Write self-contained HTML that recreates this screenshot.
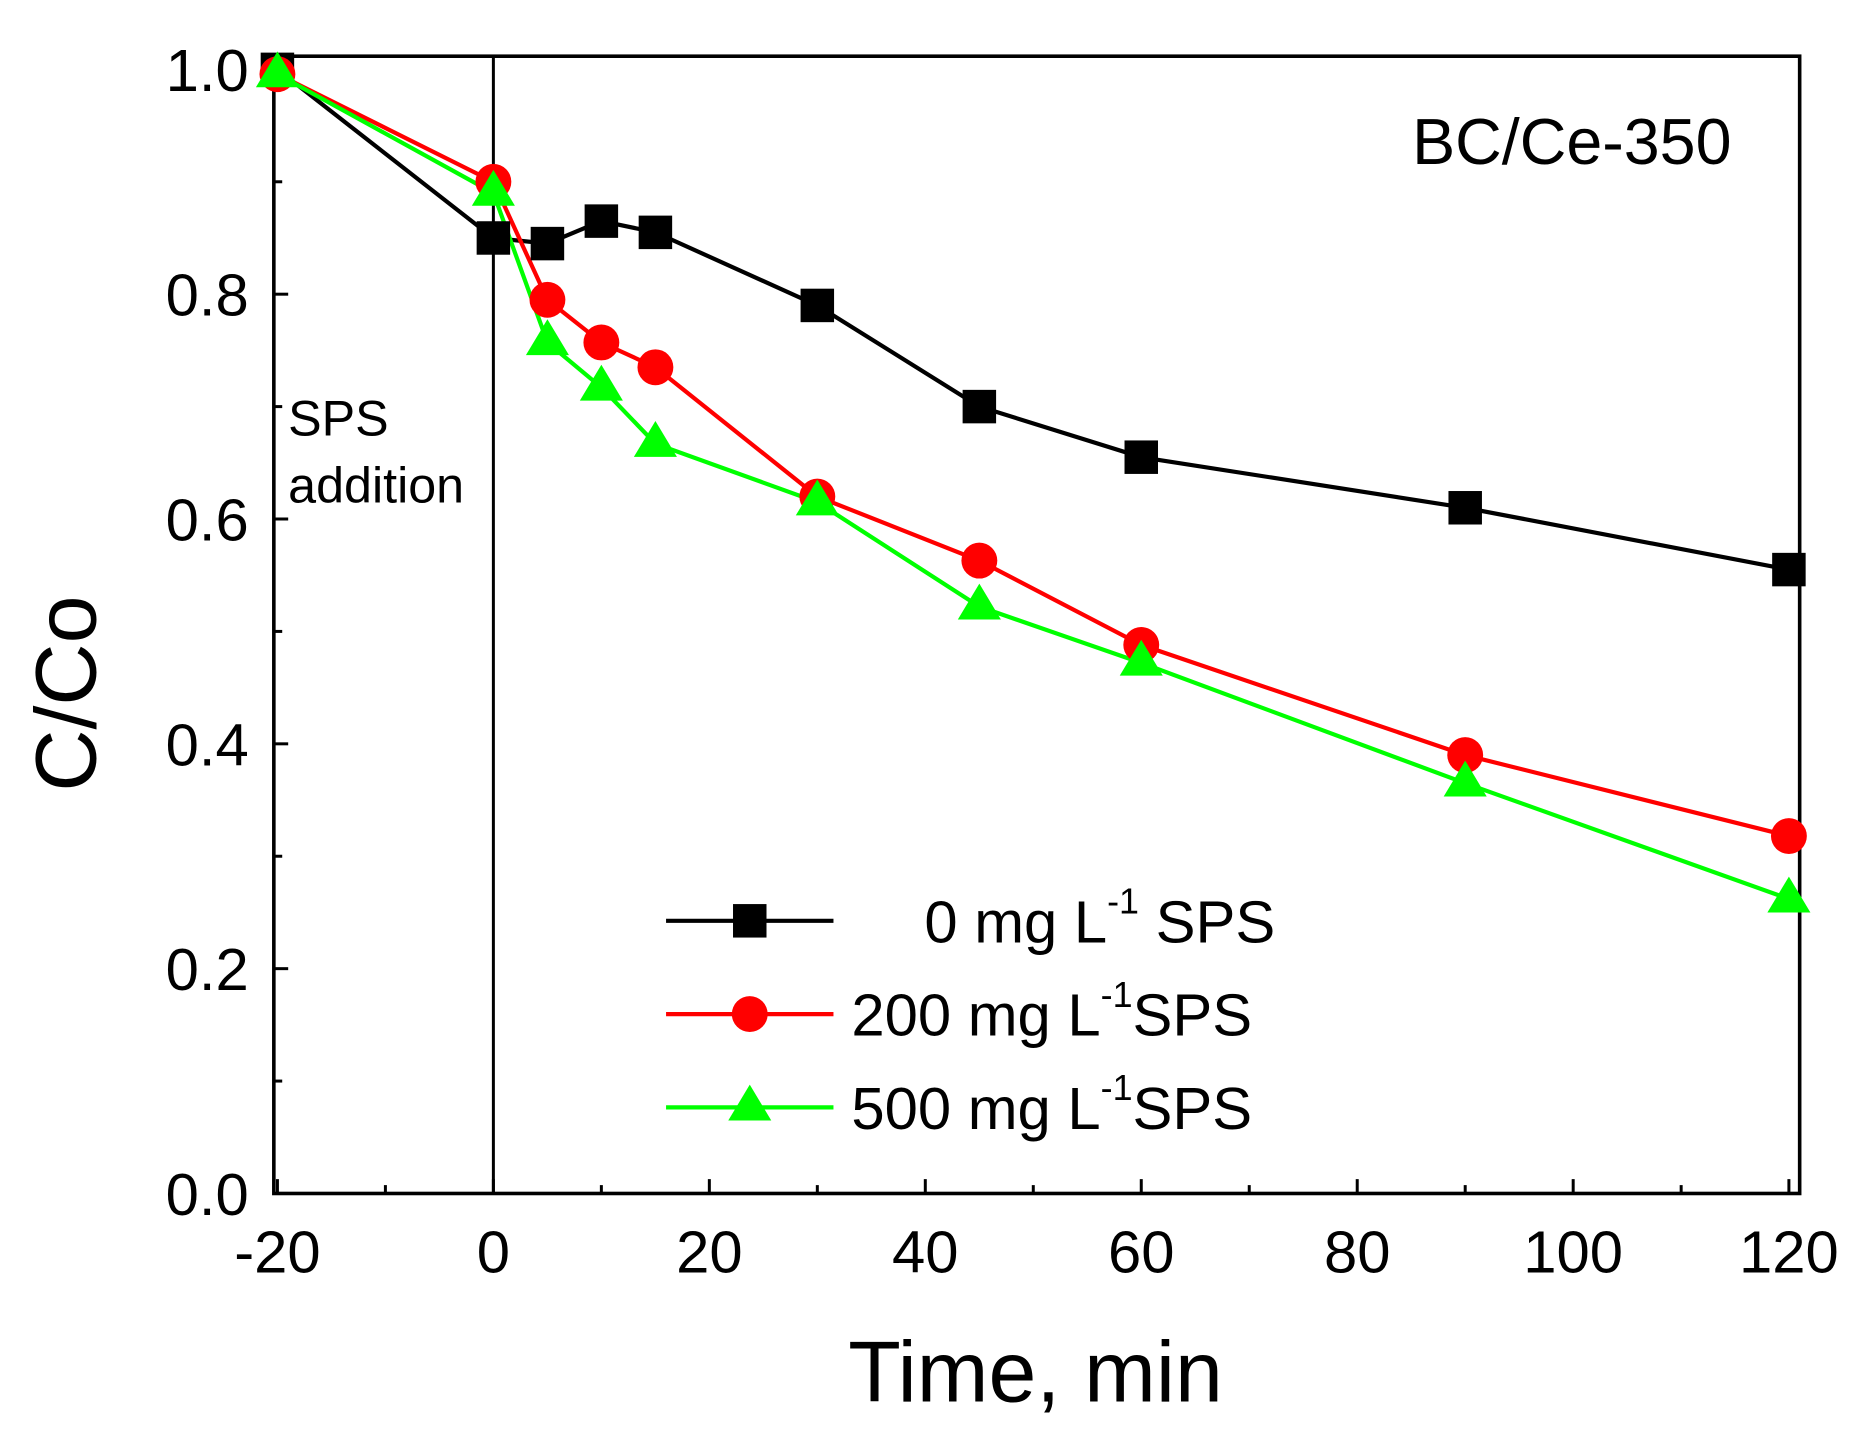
<!DOCTYPE html>
<html><head><style>html,body{margin:0;padding:0;background:#fff}svg{display:block}</style></head>
<body>
<svg width="1875" height="1447" viewBox="0 0 1568 1210" preserveAspectRatio="none" xmlns="http://www.w3.org/2000/svg" font-family="Liberation Sans, sans-serif">
<rect x="0" y="0" width="1568" height="1210" fill="#fff"/>
<g stroke="#000" stroke-width="2.5">
<line x1="412.6" y1="47" x2="412.6" y2="998"/>
<line x1="229" y1="998" x2="241" y2="998"/><line x1="229" y1="810" x2="241" y2="810"/><line x1="229" y1="622" x2="241" y2="622"/><line x1="229" y1="434" x2="241" y2="434"/><line x1="229" y1="246" x2="241" y2="246"/><line x1="229" y1="58" x2="241" y2="58"/>
<line x1="229" y1="904" x2="236" y2="904"/><line x1="229" y1="716" x2="236" y2="716"/><line x1="229" y1="528" x2="236" y2="528"/><line x1="229" y1="340" x2="236" y2="340"/><line x1="229" y1="152" x2="236" y2="152"/>
<line x1="232" y1="998" x2="232" y2="986"/><line x1="412.6" y1="998" x2="412.6" y2="986"/><line x1="593.2" y1="998" x2="593.2" y2="986"/><line x1="773.8" y1="998" x2="773.8" y2="986"/><line x1="954.4" y1="998" x2="954.4" y2="986"/><line x1="1135" y1="998" x2="1135" y2="986"/><line x1="1315.6" y1="998" x2="1315.6" y2="986"/><line x1="1496" y1="998" x2="1496" y2="986"/>
<line x1="322.3" y1="998" x2="322.3" y2="991"/><line x1="502.9" y1="998" x2="502.9" y2="991"/><line x1="683.5" y1="998" x2="683.5" y2="991"/><line x1="864.1" y1="998" x2="864.1" y2="991"/><line x1="1044.7" y1="998" x2="1044.7" y2="991"/><line x1="1225.3" y1="998" x2="1225.3" y2="991"/><line x1="1405.9" y1="998" x2="1405.9" y2="991"/>
</g>
<rect x="229" y="47" width="1276" height="951" fill="none" stroke="#000" stroke-width="3"/>
<polyline fill="none" stroke="#000" stroke-width="3.5" points="232,58 412.6,199 457.8,203.7 502.9,184.9 548.1,194.3 683.5,255.4 819,340 954.4,382.3 1225.3,424.6 1496,476.3"/>
<polyline fill="none" stroke="#ff0000" stroke-width="3.5" points="232,62 412.6,152 457.8,250.7 502.9,286.4 548.1,307.1 683.5,415.2 819,468.8 954.4,539.3 1225.3,631.4 1496,699.1"/>
<polyline fill="none" stroke="#00ff00" stroke-width="3.5" points="232,62 412.6,161.4 457.8,286.4 502.9,324 548.1,371 683.5,419.9 819,507.3 954.4,554.3 1225.3,654.9 1496,751.7"/>
<g fill="#000">
<rect x="218" y="44" width="28" height="28"/><rect x="398.6" y="185" width="28" height="28"/><rect x="443.8" y="189.7" width="28" height="28"/><rect x="488.9" y="170.9" width="28" height="28"/><rect x="534.1" y="180.3" width="28" height="28"/><rect x="669.5" y="241.4" width="28" height="28"/><rect x="805" y="326" width="28" height="28"/><rect x="940.4" y="368.3" width="28" height="28"/><rect x="1211.3" y="410.6" width="28" height="28"/><rect x="1482" y="462.3" width="28" height="28"/>
</g>
<g fill="#ff0000">
<circle cx="232" cy="62" r="15"/><circle cx="412.6" cy="152" r="15"/><circle cx="457.8" cy="250.7" r="15"/><circle cx="502.9" cy="286.4" r="15"/><circle cx="548.1" cy="307.1" r="15"/><circle cx="683.5" cy="415.2" r="15"/><circle cx="819" cy="468.8" r="15"/><circle cx="954.4" cy="539.3" r="15"/><circle cx="1225.3" cy="631.4" r="15"/><circle cx="1496" cy="699.1" r="15"/>
</g>
<g fill="#00ff00">
<polygon points="232,43 250,73 214,73"/><polygon points="412.6,142 430.6,172 394.6,172"/><polygon points="457.8,267 475.8,297 439.8,297"/><polygon points="502.9,305 520.9,335 484.9,335"/><polygon points="548.1,352 566.1,382 530.1,382"/><polygon points="683.5,401 701.5,431 665.5,431"/><polygon points="819,488 837,518 801,518"/><polygon points="954.4,535 972.4,565 936.4,565"/><polygon points="1225.3,636 1243.3,666 1207.3,666"/><polygon points="1496,733 1514,763 1478,763"/>
</g>
<g font-size="50" fill="#000" text-anchor="end">
<text x="208" y="1016">0.0</text><text x="208" y="828">0.2</text><text x="208" y="640">0.4</text><text x="208" y="452">0.6</text><text x="208" y="264">0.8</text><text x="208" y="76">1.0</text>
</g>
<g font-size="50" fill="#000" text-anchor="middle">
<text x="232" y="1064">-20</text><text x="412.6" y="1064">0</text><text x="593.2" y="1064">20</text><text x="773.8" y="1064">40</text><text x="954.4" y="1064">60</text><text x="1135" y="1064">80</text><text x="1315.6" y="1064">100</text><text x="1496" y="1064">120</text>
</g>
<text x="866" y="1172" font-size="72" text-anchor="middle">Time, min</text>
<text transform="translate(80,580) rotate(-90)" font-size="72" text-anchor="middle">C/Co</text>
<text x="1448" y="137" font-size="54" text-anchor="end">BC/Ce-350</text>
<text x="241" y="364" font-size="42">SPS</text>
<text x="241" y="420" font-size="42">addition</text>
<line x1="557" y1="770" x2="697" y2="770" stroke="#000" stroke-width="3.5"/><rect x="613" y="756" width="28" height="28" fill="#000"/>
<line x1="557" y1="848" x2="697" y2="848" stroke="#ff0000" stroke-width="3.5"/><circle cx="627" cy="848" r="15" fill="#ff0000"/>
<line x1="557" y1="926" x2="697" y2="926" stroke="#00ff00" stroke-width="3.5"/><polygon points="627,907 645,937 609,937" fill="#00ff00"/>
<g font-size="50">
<text x="773" y="788">0 mg L<tspan font-size="30" dy="-24">-1</tspan><tspan dy="24"> SPS</tspan></text>
<text x="712" y="866">200 mg L<tspan font-size="30" dy="-24">-1</tspan><tspan dy="24">SPS</tspan></text>
<text x="712" y="944">500 mg L<tspan font-size="30" dy="-24">-1</tspan><tspan dy="24">SPS</tspan></text>
</g>
</svg>
</body></html>
